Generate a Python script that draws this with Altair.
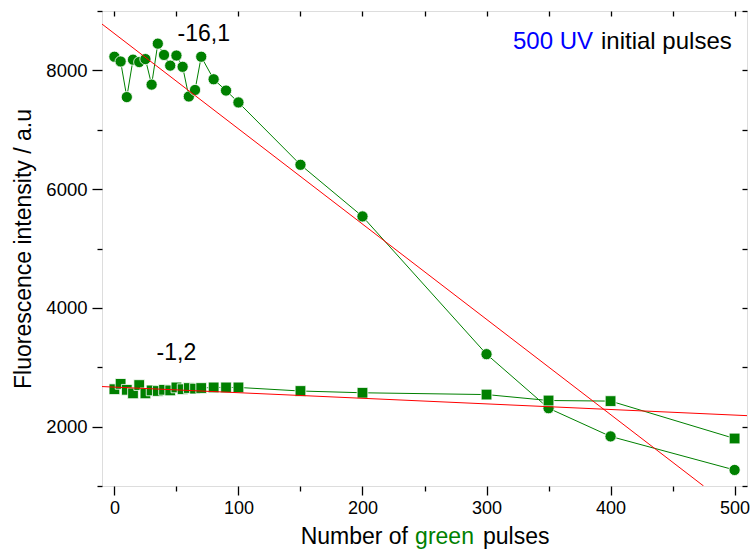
import altair as alt
import pandas as pd

# ---- data ----
pulses = [0, 5, 10, 15, 20, 25, 30, 35, 40, 45, 50, 55, 60, 65, 70, 80, 90, 100,
          150, 200, 300, 350, 400, 500]
circle_vals = [8230, 8150, 7550, 8180, 8140, 8190, 7760, 8450, 8260, 8080, 8250, 8060,
               7560, 7670, 8230, 7850, 7660, 7460, 6410, 5540, 3220, 2310, 1835, 1270]
square_vals = [2630, 2720, 2620, 2560, 2700, 2560, 2610, 2600, 2620, 2610, 2660, 2630,
               2650, 2640, 2650, 2660, 2660, 2660, 2600, 2570, 2540, 2440, 2430, 1800]

fit_id = ["steep", "steep", "flat", "flat"]
fit_x = [-10, 475, -10, 510]
fit_y = [8780, 1000, 2675, 2185]

ann_text = ["-16,1", "-1,2"]
ann_x = [72, 50]
ann_y = [8612, 3240]

x_ticks = list(range(0, 501, 50))
y_ticks = list(range(1000, 9001, 1000))

GREEN = "#008000"
RED = "#ff0000"
FONT = "Liberation Sans"

circ_df = pd.DataFrame({"x": pulses, "y": circle_vals})
sq_df = pd.DataFrame({"x": pulses, "y": square_vals})
fit_df = pd.DataFrame({"id": fit_id, "x": fit_x, "y": fit_y})
ann_df = pd.DataFrame({"t": ann_text, "x": ann_x, "y": ann_y})

xs = alt.Scale(domain=[-10, 510], nice=False, zero=False)
ys = alt.Scale(domain=[1000, 9000], nice=False, zero=False)

x_axis = alt.Axis(
    values=x_ticks, title=None, grid=False, domain=False,
    labelExpr="datum.value % 100 === 0 ? datum.label : ''",
    tickSize={"condition": {"test": "datum.value % 100 === 0", "value": 9}, "value": 5},
    tickColor="black", tickWidth=1.3, labelFontSize=18, labelFont=FONT,
    labelColor="black", labelPadding=4, labelOverlap=False, labelFlush=False, format="d",
)
y_axis = alt.Axis(
    values=y_ticks, title="Fluorescence intensity / a.u", grid=False, domain=False,
    labelExpr="datum.value % 2000 === 0 ? datum.label : ''",
    tickSize={"condition": {"test": "datum.value % 2000 === 0", "value": 10}, "value": 5},
    tickColor="black", tickWidth=1.3, labelFontSize=18.5, labelFont=FONT,
    labelColor="black", labelPadding=5, labelOverlap=False, labelFlush=False, format="d",
    titleFont=FONT, titleFontSize=23, titleFontWeight="normal", titleColor="black",
    titlePadding=10,
)
x_axis_top = alt.Axis(
    orient="top", values=x_ticks, title=None, grid=False, domain=False, labels=False,
    tickSize=5, offset=-5, tickColor="black", tickWidth=1.3,
)
y_axis_right = alt.Axis(
    orient="right", values=y_ticks, title=None, grid=False, domain=False, labels=False,
    tickSize=5, offset=-5, tickColor="black", tickWidth=1.3,
)

circ_line = alt.Chart(circ_df).mark_line(color=GREEN, strokeWidth=1).encode(
    x=alt.X("x:Q", scale=xs, axis=x_axis),
    y=alt.Y("y:Q", scale=ys, axis=y_axis),
)
circ_pts = alt.Chart(circ_df).mark_point(
    shape="circle", filled=True, color=GREEN, size=125, opacity=1,
    stroke="white", strokeWidth=0.8,
).encode(
    x=alt.X("x:Q", scale=xs, axis=None),
    y=alt.Y("y:Q", scale=ys, axis=None),
)
sq_line = alt.Chart(sq_df).mark_line(color=GREEN, strokeWidth=1).encode(
    x=alt.X("x:Q", scale=xs, axis=None),
    y=alt.Y("y:Q", scale=ys, axis=None),
)
sq_pts = alt.Chart(sq_df).mark_point(
    shape="square", filled=True, color=GREEN, size=115, opacity=1,
    stroke="white", strokeWidth=0.8,
).encode(
    x=alt.X("x:Q", scale=xs, axis=None),
    y=alt.Y("y:Q", scale=ys, axis=None),
)
fits = alt.Chart(fit_df).mark_line(color=RED, strokeWidth=1, clip=True).encode(
    x=alt.X("x:Q", scale=xs, axis=x_axis_top),
    y=alt.Y("y:Q", scale=ys, axis=y_axis_right),
    detail="id:N",
)
ann = alt.Chart(ann_df).mark_text(
    font=FONT, fontSize=23, color="black", align="center", baseline="middle"
).encode(
    x=alt.X("x:Q", scale=xs, axis=None),
    y=alt.Y("y:Q", scale=ys, axis=None),
    text="t:N",
)

# multi-coloured titles
title_parts = pd.DataFrame({"t": ["Number of", "green", "pulses"]})
xt1 = alt.Chart(title_parts[title_parts.t == "Number of"]).mark_text(
    font=FONT, fontSize=23, color="black", align="right", baseline="alphabetic"
).encode(x=alt.value(306), y=alt.value(533), text="t:N")
xt2 = alt.Chart(title_parts[title_parts.t == "green"]).mark_text(
    font=FONT, fontSize=23, color=GREEN, align="center", baseline="alphabetic"
).encode(x=alt.value(342.5), y=alt.value(533), text="t:N")
xt3 = alt.Chart(title_parts[title_parts.t == "pulses"]).mark_text(
    font=FONT, fontSize=23, color="black", align="left", baseline="alphabetic"
).encode(x=alt.value(381), y=alt.value(533), text="t:N")

leg_parts = pd.DataFrame({"t": ["500 UV", "initial pulses"]})
lt1 = alt.Chart(leg_parts[leg_parts.t == "500 UV"]).mark_text(
    font=FONT, fontSize=24, color="#0000ff", align="right", baseline="alphabetic"
).encode(x=alt.value(491), y=alt.value(38), text="t:N")
lt2 = alt.Chart(leg_parts[leg_parts.t == "initial pulses"]).mark_text(
    font=FONT, fontSize=24, color="black", align="left", baseline="alphabetic"
).encode(x=alt.value(499), y=alt.value(38), text="t:N")

chart = alt.layer(
    circ_line, sq_line, circ_pts, sq_pts, fits, ann, xt1, xt2, xt3, lt1, lt2
).resolve_axis(
    x="independent", y="independent"
).properties(
    width=645, height=475,
    padding={"left": 102, "top": 11, "right": 3, "bottom": 65},
    autosize=alt.AutoSizeParams(type="none"),
).configure_view(
    stroke="black", strokeWidth=1.6
).configure(background="white")

chart.save("out.html", embed_options={"renderer": "svg", "actions": False})
